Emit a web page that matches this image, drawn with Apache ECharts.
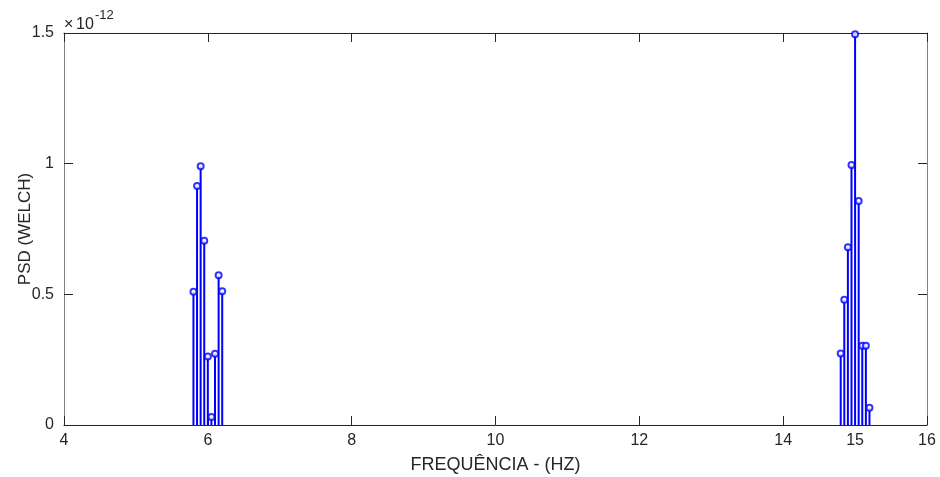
<!DOCTYPE html>
<html>
<head>
<meta charset="utf-8">
<script src="https://cdn.jsdelivr.net/npm/echarts@6/dist/echarts.min.js"></script>
<style>
  html, body {margin:0; padding:0; background:#fff;}
  #psd {width:940px; height:477px;}
</style>
</head>
<body>
<div id="psd"></div>
<script>
// frequências (Hz) e PSD (x 1e-12)
var freqLow  = [5.8, 5.85, 5.9, 5.95, 6.0, 6.05, 6.1, 6.15, 6.2];
var psdLow   = [0.51, 0.915, 0.99, 0.705, 0.262, 0.031, 0.273, 0.573, 0.512];
var freqHigh = [14.8, 14.85, 14.9, 14.95, 15.0, 15.05, 15.1, 15.15, 15.2];
var psdHigh  = [0.274, 0.479, 0.68, 0.995, 1.495, 0.857, 0.303, 0.303, 0.066];
var xTicks   = [4, 6, 8, 10, 12, 14, 15, 16];
var yTicks   = [0, 0.5, 1, 1.5];

var pts = [];
freqLow.forEach(function (f, i) { pts.push([f, psdLow[i]]); });
freqHigh.forEach(function (f, i) { pts.push([f, psdHigh[i]]); });

var txt = '#262626';
var font = 'Liberation Sans, Arial, sans-serif';

function stem(params, api) {
    var p0 = api.coord([api.value(0), 0]);
    var p1 = api.coord([api.value(0), api.value(1)]);
    return {
        type: 'line',
        shape: {x1: p0[0], y1: p0[1], x2: p1[0], y2: p1[1]},
        style: {stroke: '#0000ff', lineWidth: 2}
    };
}

var option = {
    animation: false,
    grid: {left: 64, right: 13, top: 33, bottom: 52, outerBoundsMode: 'none'},
    xAxis: [
        {
            type: 'value', min: 4, max: 16, position: 'bottom',
            name: 'FREQUÊNCIA - (HZ)', nameLocation: 'middle', nameGap: 31, nameMoveOverlap: false,
            nameTextStyle: {color: txt, fontSize: 18, fontFamily: font},
            axisLine: {onZero: false, lineStyle: {color: txt, width: 1}},
            axisTick: {inside: true, length: 9, customValues: xTicks, lineStyle: {color: txt}},
            axisLabel: {customValues: xTicks, margin: 8, color: txt, fontSize: 16, fontFamily: font},
            splitLine: {show: false}
        },
        {
            type: 'value', min: 4, max: 16, position: 'top',
            axisLine: {onZero: false, lineStyle: {color: txt, width: 1}},
            axisTick: {inside: true, length: 9, customValues: xTicks, lineStyle: {color: txt}},
            axisLabel: {show: false},
            splitLine: {show: false}
        }
    ],
    yAxis: [
        {
            type: 'value', min: 0, max: 1.5, interval: 0.5, position: 'left',
            name: 'PSD (WELCH)', nameLocation: 'middle', nameGap: 30, nameMoveOverlap: false,
            nameTextStyle: {color: txt, fontSize: 17, fontFamily: font},
            axisLine: {show: true, lineStyle: {color: '#808080', width: 1}},
            axisTick: {show: true, inside: true, length: 9, customValues: yTicks, lineStyle: {color: txt}},
            axisLabel: {customValues: yTicks, margin: 10, color: txt, fontSize: 16, fontFamily: font},
            splitLine: {show: false}
        },
        {
            type: 'value', min: 0, max: 1.5, interval: 0.5, position: 'right',
            axisLine: {show: true, lineStyle: {color: '#808080', width: 1}},
            axisTick: {show: true, inside: true, length: 9, customValues: yTicks, lineStyle: {color: txt}},
            axisLabel: {show: false},
            splitLine: {show: false}
        }
    ],
    graphic: [
        {type: 'text', left: 64, top: 17, style: {text: '×', fill: txt, font: '16px ' + font}},
        {type: 'text', left: 76, top: 17, style: {text: '10', fill: txt, font: '16px ' + font}},
        {type: 'text', left: 95, top: 9, style: {text: '-12', fill: txt, font: '13px ' + font}}
    ],
    series: [
        {
            type: 'custom', xAxisIndex: 0, yAxisIndex: 0,
            renderItem: stem, data: pts, z: 2
        },
        {
            type: 'scatter', xAxisIndex: 0, yAxisIndex: 0,
            symbol: 'emptyCircle', symbolSize: 6,
            itemStyle: {color: '#0000ff', borderColor: '#0000ff', borderWidth: 2.2},
            data: pts, z: 3
        }
    ]
};

var myChart = echarts.init(document.getElementById('psd'));
myChart.setOption(option);
</script>
</body>
</html>
